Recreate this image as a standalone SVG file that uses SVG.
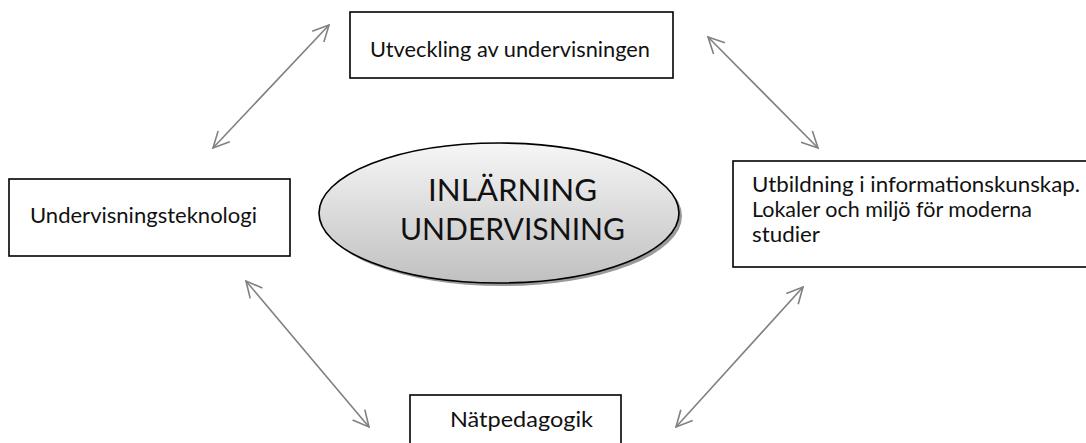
<svg xmlns="http://www.w3.org/2000/svg" width="1086" height="443" viewBox="0 0 1086 443">
  <defs>
    <linearGradient id="ellGrad" x1="0" y1="0" x2="0" y2="1">
      <stop offset="0" stop-color="#f6f6f6"/>
      <stop offset="1" stop-color="#c0c0c0"/>
    </linearGradient>
    <marker id="arr" viewBox="0 0 20 20" refX="18" refY="10" markerWidth="20" markerHeight="20" markerUnits="userSpaceOnUse" orient="auto-start-reverse">
      <path d="M2,2 L18,10 L2,18" fill="none" stroke="#808080" stroke-width="1.6"/>
    </marker>
  </defs>
  <style>
    .box { fill: #ffffff; stroke: #000000; stroke-width: 1.6; }
    .lbl { font-family: "Lato", "Open Sans", "Liberation Sans", sans-serif; font-size: 21px; fill: #111111; }
    .big { font-family: "Lato", "Open Sans", "Liberation Sans", sans-serif; font-size: 31px; fill: #111111; }
    .conn { stroke: #808080; stroke-width: 1.6; fill: none; marker-start: url(#arr); marker-end: url(#arr); }
  </style>
  <rect width="1086" height="443" fill="#ffffff"/>

  <g id="connectors">
    <line class="conn" x1="213" y1="148" x2="329" y2="25"/>
    <line class="conn" x1="708" y1="37" x2="818" y2="148"/>
    <line class="conn" x1="246" y1="281" x2="369" y2="427"/>
    <line class="conn" x1="803" y1="287" x2="676" y2="427"/>
  </g>

  <g id="center">
    <ellipse cx="502" cy="216" rx="180" ry="70" fill="#9a9a9a"/>
    <ellipse cx="499" cy="213" rx="180" ry="70" fill="url(#ellGrad)" stroke="#000000" stroke-width="1.6"/>
    <text class="big" x="428" y="201" textLength="169" lengthAdjust="spacingAndGlyphs">INLÄRNING</text>
    <text class="big" x="400" y="240" textLength="225" lengthAdjust="spacingAndGlyphs">UNDERVISNING</text>
  </g>

  <g id="top">
    <rect class="box" x="350" y="12" width="323" height="66"/>
    <text class="lbl" x="370" y="57" textLength="280" lengthAdjust="spacingAndGlyphs">Utveckling av undervisningen</text>
  </g>

  <g id="left">
    <rect class="box" x="9" y="179" width="281" height="77"/>
    <text class="lbl" x="30" y="223" textLength="227" lengthAdjust="spacingAndGlyphs">Undervisningsteknologi</text>
  </g>

  <g id="right">
    <rect class="box" x="733" y="161" width="360" height="106"/>
    <text class="lbl" x="752" y="192" textLength="328" lengthAdjust="spacingAndGlyphs">Utbildning i informationskunskap.</text>
    <text class="lbl" x="752" y="217" textLength="280" lengthAdjust="spacingAndGlyphs">Lokaler och miljö för moderna</text>
    <text class="lbl" x="752" y="242" textLength="68" lengthAdjust="spacingAndGlyphs">studier</text>
  </g>

  <g id="bottom">
    <rect class="box" x="410" y="395" width="211" height="60"/>
    <text class="lbl" x="450" y="427" textLength="143" lengthAdjust="spacingAndGlyphs">Nätpedagogik</text>
  </g>
</svg>
